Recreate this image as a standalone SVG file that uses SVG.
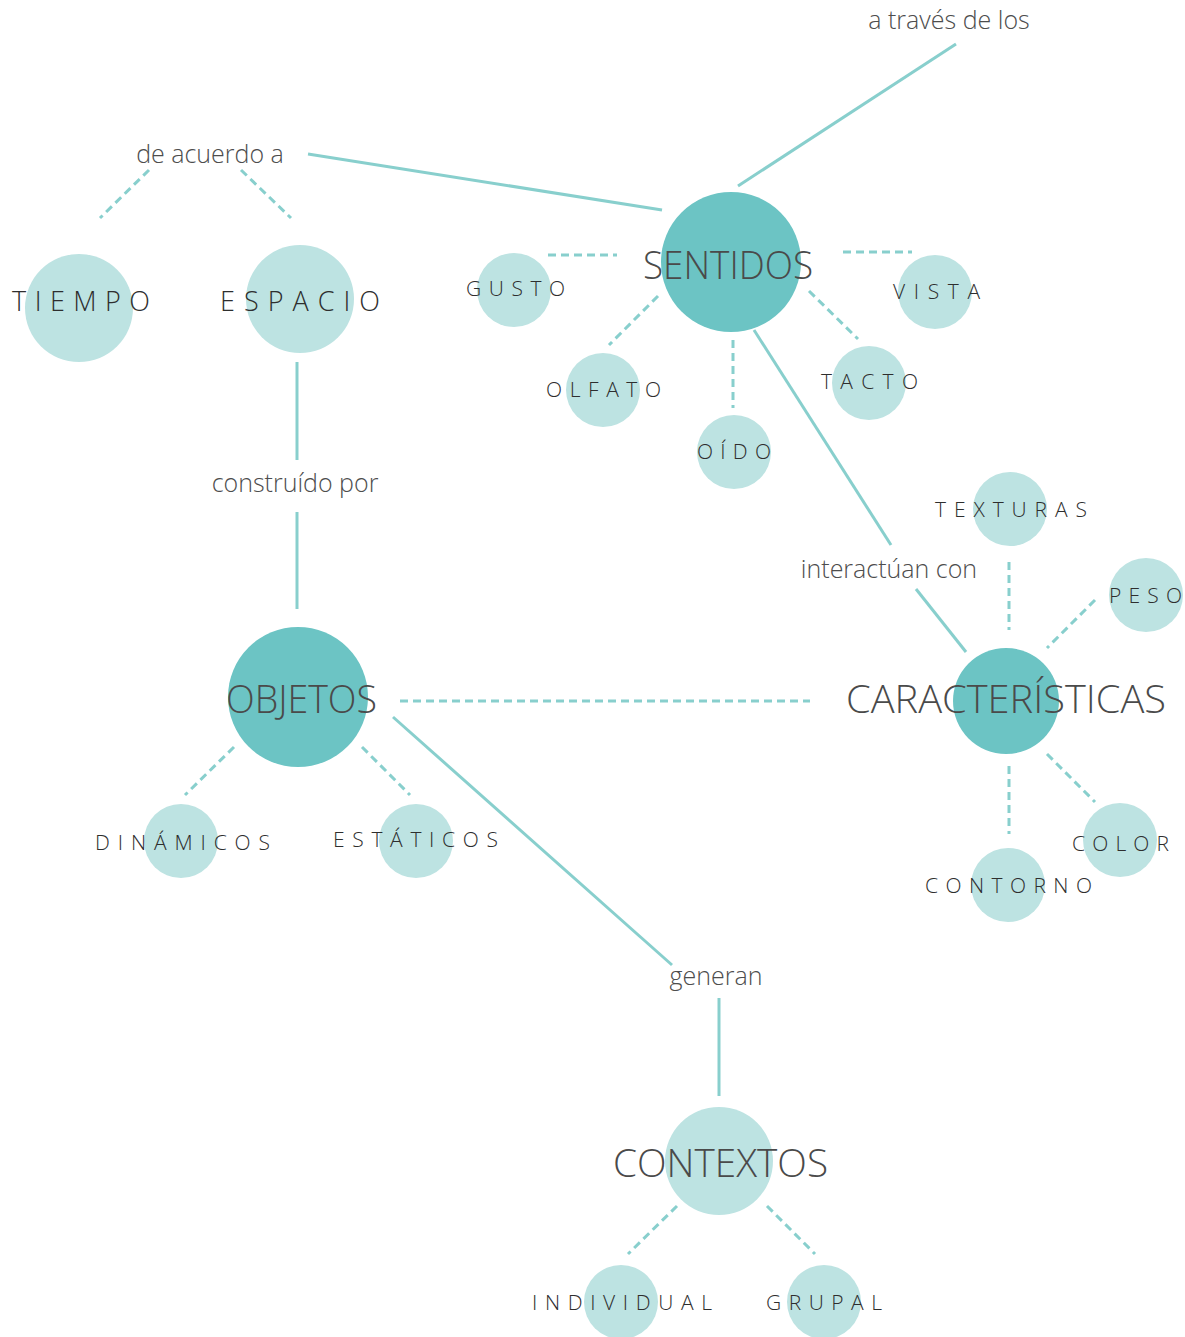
<svg xmlns="http://www.w3.org/2000/svg" width="1185" height="1337" viewBox="0 0 1185 1337">
<style>
.big{fill:#6CC4C4}
.sm{fill:#BDE3E2}
.ln{stroke:#88CFCD;stroke-width:3;fill:none}
.ds{stroke:#88CFCD;stroke-width:3;fill:none;stroke-dasharray:8 5}
.lab{font-family:"Open Sans","Liberation Sans",sans-serif;font-weight:300;fill:#4d4d4d;font-size:25px}
.hd{font-family:"Open Sans","Liberation Sans",sans-serif;font-weight:300;fill:#4a4a4a;font-size:39px}
.sp{font-family:"Open Sans","Liberation Sans",sans-serif;font-weight:300;fill:#2e2e2e;font-size:21px}
.sp2{font-family:"Open Sans","Liberation Sans",sans-serif;font-weight:300;fill:#2e2e2e;font-size:27px}
</style>
<rect width="1185" height="1337" fill="#fff"/>
<g id="connectors">
<line class="ln" x1="956" y1="44" x2="738" y2="186"/>
<line class="ln" x1="308" y1="154" x2="662" y2="210"/>
<line class="ds" x1="149" y1="170" x2="100" y2="218"/>
<line class="ds" x1="241" y1="170" x2="291" y2="218"/>
<line class="ln" x1="297" y1="362" x2="297" y2="460"/>
<line class="ln" x1="297" y1="512" x2="297" y2="609"/>
<line class="ds" x1="400" y1="701" x2="810" y2="701"/>
<line class="ds" x1="234" y1="747" x2="185" y2="795"/>
<line class="ds" x1="362" y1="747" x2="410" y2="795"/>
<line class="ln" x1="393" y1="717" x2="672" y2="965"/>
<line class="ln" x1="719" y1="998" x2="719" y2="1096"/>
<line class="ds" x1="677" y1="1206" x2="628" y2="1254"/>
<line class="ds" x1="767" y1="1206" x2="815" y2="1254"/>
<line class="ds" x1="548" y1="255" x2="617" y2="255"/>
<line class="ds" x1="843" y1="252" x2="912" y2="252"/>
<line class="ds" x1="658" y1="296" x2="609" y2="345"/>
<line class="ds" x1="733" y1="340" x2="733" y2="408"/>
<line class="ds" x1="809" y1="291" x2="858" y2="339"/>
<line class="ln" x1="754" y1="330" x2="891" y2="545"/>
<line class="ln" x1="916" y1="589" x2="966" y2="652"/>
<line class="ds" x1="1009" y1="562" x2="1009" y2="630"/>
<line class="ds" x1="1095" y1="600" x2="1047" y2="648"/>
<line class="ds" x1="1047" y1="754" x2="1095" y2="802"/>
<line class="ds" x1="1009" y1="766" x2="1009" y2="834"/>
</g>
<g id="lbl-traves"><text class="lab" x="949" y="29" text-anchor="middle">a través de los</text></g>
<g id="lbl-acuerdo"><text class="lab" x="210" y="163" text-anchor="middle">de acuerdo a</text></g>
<g id="lbl-construido"><text class="lab" x="295" y="492" text-anchor="middle">construído por</text></g>
<g id="lbl-generan"><text class="lab" x="716" y="985" text-anchor="middle">generan</text></g>
<g id="lbl-interactuan"><text class="lab" x="889" y="578" text-anchor="middle">interactúan con</text></g>
<g id="tiempo"><circle class="sm" cx="79" cy="308" r="54"/><text class="sp2" x="12" y="311" textLength="138" lengthAdjust="spacing">TIEMPO</text></g>
<g id="espacio"><circle class="sm" cx="300" cy="299" r="54"/><text class="sp2" x="220" y="311" textLength="160" lengthAdjust="spacing">ESPACIO</text></g>
<g id="objetos"><circle class="big" cx="298" cy="697" r="70"/><text class="hd" x="226" y="713" textLength="151" lengthAdjust="spacingAndGlyphs">OBJETOS</text></g>
<g id="dinamicos"><circle class="sm" cx="181" cy="841" r="37"/><text class="sp" x="95" y="850" textLength="175" lengthAdjust="spacing">DINÁMICOS</text></g>
<g id="estaticos"><circle class="sm" cx="416" cy="841" r="37"/><text class="sp" x="333" y="847" textLength="165" lengthAdjust="spacing">ESTÁTICOS</text></g>
<g id="contextos"><circle class="sm" cx="719" cy="1161" r="54"/><text class="hd" x="613" y="1177" textLength="215" lengthAdjust="spacingAndGlyphs">CONTEXTOS</text></g>
<g id="individual"><circle class="sm" cx="621" cy="1302" r="37"/><text class="sp" x="532" y="1310" textLength="180" lengthAdjust="spacing">INDIVIDUAL</text></g>
<g id="grupal"><circle class="sm" cx="824" cy="1302" r="37"/><text class="sp" x="766" y="1310" textLength="116" lengthAdjust="spacing">GRUPAL</text></g>
<g id="sentidos"><circle class="big" cx="731" cy="262" r="70"/><text class="hd" x="643" y="279" textLength="170" lengthAdjust="spacingAndGlyphs">SENTIDOS</text></g>
<g id="gusto"><circle class="sm" cx="514" cy="290" r="37"/><text class="sp" x="466" y="296" textLength="99" lengthAdjust="spacing">GUSTO</text></g>
<g id="vista"><circle class="sm" cx="935" cy="292" r="37"/><text class="sp" x="893" y="299" textLength="87" lengthAdjust="spacing">VISTA</text></g>
<g id="olfato"><circle class="sm" cx="603" cy="390" r="37"/><text class="sp" x="546" y="397" textLength="115" lengthAdjust="spacing">OLFATO</text></g>
<g id="oido"><circle class="sm" cx="734" cy="452" r="37"/><text class="sp" x="697" y="459" textLength="74" lengthAdjust="spacing">OÍDO</text></g>
<g id="tacto"><circle class="sm" cx="869" cy="383" r="37"/><text class="sp" x="821" y="389" textLength="97" lengthAdjust="spacing">TACTO</text></g>
<g id="caracteristicas"><circle class="big" cx="1006" cy="701" r="53"/><text class="hd" x="846" y="713" textLength="320" lengthAdjust="spacingAndGlyphs">CARACTERÍSTICAS</text></g>
<g id="texturas"><circle class="sm" cx="1010" cy="509" r="37"/><text class="sp" x="935" y="517" textLength="152" lengthAdjust="spacing">TEXTURAS</text></g>
<g id="peso"><circle class="sm" cx="1146" cy="595" r="37"/><text class="sp" x="1109" y="603" textLength="73" lengthAdjust="spacing">PESO</text></g>
<g id="color"><circle class="sm" cx="1120" cy="840" r="37"/><text class="sp" x="1072" y="851" textLength="97" lengthAdjust="spacing">COLOR</text></g>
<g id="contorno"><circle class="sm" cx="1008" cy="885" r="37"/><text class="sp" x="925" y="893" textLength="167" lengthAdjust="spacing">CONTORNO</text></g>
</svg>
